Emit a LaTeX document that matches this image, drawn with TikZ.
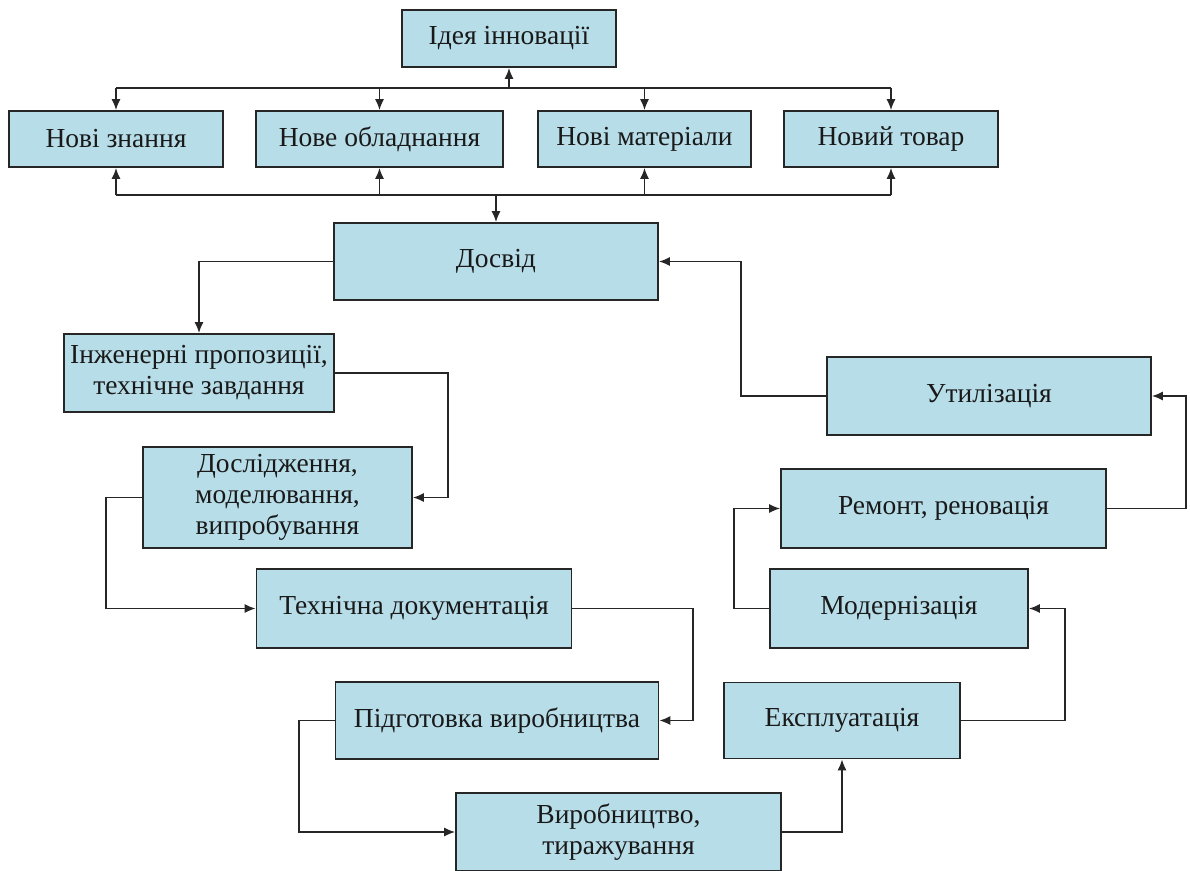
\documentclass[tikz,border=0pt]{standalone}
\usepackage{fontspec}
\setmainfont{Liberation Serif}
\usepackage{tikz}
\usetikzlibrary{arrows.meta,positioning,calc}
\definecolor{boxfill}{HTML}{B7DDE8}
\definecolor{edge}{HTML}{262626}
\tikzset{box/.style={draw=edge,line width=1.6pt,fill=boxfill,align=center,inner sep=0pt,
    minimum height=78pt,text=black!90,font=\fontsize{27.5}{31}\selectfont},
  arr/.style={-{Latex[length=11pt,width=9pt]},line width=1.7pt,draw=edge}}

\begin{document}
\begin{tikzpicture}[x=1pt,y=-1pt]
\useasboundingbox (0,0) rectangle (1190,870);
\node[box,minimum width=214pt,minimum height=57pt] (ideia) at (509,38.5){Ідея інновації};
\node[box,minimum width=214pt,minimum height=56pt] (z1) at (116,139){Нові знання};
\node[box,minimum width=247pt,minimum height=56pt] (z2) at (379.5,139){Нове обладнання};
\node[box,minimum width=213pt,minimum height=56pt] (z3) at (644.5,139){Нові матеріали};
\node[box,minimum width=214pt,minimum height=56pt] (z4) at (891,139){Новий товар};
\node[box,minimum width=324pt,minimum height=77pt] (dosvid) at (496,261.5){Досвід};
\node[box,minimum width=270pt] (inzh) at (199,373){Інженерні пропозиції,\\технічне завдання};
\node[box,minimum width=269pt,minimum height=101pt] (dosl) at (277.5,497.5){Дослідження,\\моделювання,\\випробування};
\node[box,minimum width=315pt,minimum height=79pt] (tech) at (414,608.5){Технічна документація};
\node[box,minimum width=323pt,minimum height=77pt] (pidg) at (497,720.5){Підготовка виробництва};
\node[box,minimum width=325pt] (vyrob) at (618.5,832){Виробництво,\\тиражування};
\node[box,minimum width=236pt,minimum height=76pt] (ekspl) at (842,720.5){Експлуатація};
\node[box,minimum width=258pt,minimum height=79pt] (modern) at (899,608.5){Модернізація};
\node[box,minimum width=325pt,minimum height=79pt] (remont) at (943.5,508.5){Ремонт, реновація};
\node[box,minimum width=324pt] (util) at (989,396){Утилізація};
% top and bottom buses
\coordinate (bt) at (509,88);
\coordinate (bb) at (496,195);
\draw[arr,-] (z1.north |- bt) -- (z4.north |- bt);
\draw[arr,-] (z1.south |- bb) -- (z4.south |- bb);
\draw[arr] (bt) -- (ideia);
\draw[arr] (bb) -- (dosvid);
\foreach \n in {z1,z2,z3,z4}{
  \draw[arr] (\n.north |- bt) -- (\n);
  \draw[arr] (\n.south |- bb) -- (\n);}
% life cycle
\draw[arr] (dosvid.west) -| (inzh.north);
\draw[arr] (vyrob.east) -| (ekspl.south);
\foreach \p/\a/\d/\q/\b in {inzh/east/113/dosl/east,dosl/west/-36/tech/west,tech/east/121/pidg/east,
    pidg/west/-36/vyrob/west,ekspl/east/104/modern/east,modern/west/-35/remont/west,
    remont/east/79/util/east,util/west/-85/dosvid/east}{
  \draw[arr] (\p.\a) -- ++(\d,0) |- (\q.\b);}
\end{tikzpicture}
\end{document}
